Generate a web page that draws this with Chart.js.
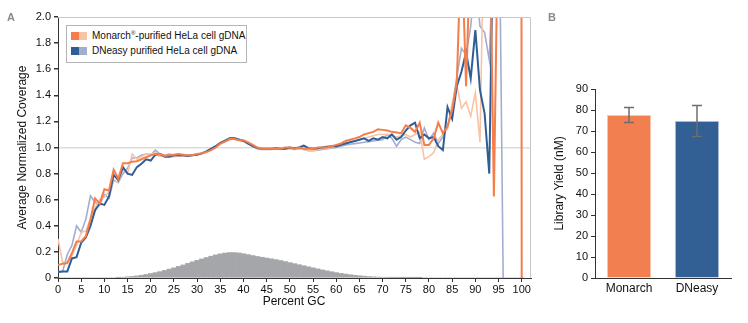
<!DOCTYPE html>
<html>
<head>
<meta charset="utf-8">
<script src="https://cdn.jsdelivr.net/npm/chart.js@4"></script>
<style>
  body { margin: 0; background: #fff; font-family: "Liberation Sans", Arial, sans-serif; }
  #wrapA { position: absolute; left: 0; top: 0; width: 545px; height: 323px; }
  #wrapB { position: absolute; left: 545px; top: 0; width: 203px; height: 323px; }
  .panel { position: absolute; font-weight: bold; font-size: 11px; color: #8a8a8a; }
  #xTitleA { position: absolute; left: 194px; width: 200px; top: 294px; text-align: center; font-size: 12px; line-height: 14px; color: #111; }
  #legend { position: absolute; left: 66px; top: 25px; width: 179px; height: 36px; border: 1px solid #b5b5b5; background: #fff; font-size: 10px; color: #111; }
  .row { position: absolute; left: 4px; height: 12px; line-height: 12px; white-space: nowrap; }
  .sw { display: inline-block; width: 8px; height: 8px; vertical-align: -1px; }
  .row span.t { margin-left: 5px; }
  sup { font-size: 6px; vertical-align: 4px; line-height: 0; }
</style>
</head>
<body>
<div id="wrapA"><canvas id="chartA"></canvas></div>
<div id="wrapB"><canvas id="chartB"></canvas></div>
<div class="panel" style="left:7px;top:11px;">A</div>
<div class="panel" style="left:548px;top:11px;">B</div>
<div id="xTitleA">Percent GC</div>
<div id="legend">
  <div class="row" style="top:4px;"><span class="sw" style="background:#f47d4a"></span><span class="sw" style="background:#f9c3a6"></span><span class="t">Monarch<sup>®</sup>-purified HeLa cell gDNA</span></div>
  <div class="row" style="top:19px;"><span class="sw" style="background:#2e5e95"></span><span class="sw" style="background:#a2aed0"></span><span class="t">DNeasy purified HeLa cell gDNA</span></div>
</div>
<script>
// percent GC, 0..100
const gcPercent = Array.from({length: 101}, (_, i) => i);

const monarchRep1 = [
  0.10, 0.11, 0.115, 0.19, 0.28, 0.28, 0.32, 0.45, 0.61, 0.57,
  0.68, 0.67, 0.83, 0.76, 0.88, 0.88, 0.89, 0.895, 0.91, 0.925,
  0.94, 0.95, 0.95, 0.935, 0.94, 0.945, 0.95, 0.945, 0.94, 0.94,
  0.95, 0.955, 0.965, 0.98, 1.0, 1.03, 1.045, 1.065, 1.065, 1.055,
  1.055, 1.04, 1.02, 1.0, 0.99, 0.99, 0.99, 0.99, 0.99, 1.0,
  1.0, 0.99, 1.0, 0.99, 0.99, 0.99, 1.0, 1.0, 1.0, 1.01,
  1.02, 1.03, 1.05, 1.06, 1.07, 1.08, 1.1, 1.11, 1.12, 1.14,
  1.135, 1.13, 1.12, 1.115, 1.11, 1.17, 1.15, 1.12, 1.19, 1.02,
  1.02, 1.07, 1.19, 1.11, 1.16, 1.29, 1.5, 2.6, 1.47, 2.6,
  2.8, 2.8, 2.9, 3.0, 0.625, 3.0, 3.2, 3.5, 4.0, 40,
  0
];
const monarchRep2 = [
  0.30, 0.12, 0.12, 0.17, 0.25, 0.35, 0.36, 0.45, 0.54, 0.60,
  0.62, 0.66, 0.74, 0.74, 0.83, 0.80, 0.95, 0.91, 0.93, 0.95,
  0.95, 0.96, 0.93, 0.94, 0.93, 0.93, 0.935, 0.935, 0.935, 0.94,
  0.945, 0.95, 0.965, 0.98, 1.0, 1.025, 1.045, 1.06, 1.065, 1.06,
  1.05, 1.035, 1.02, 1.0, 0.99, 0.99, 0.99, 0.985, 0.99, 0.995,
  0.995, 0.99, 0.99, 0.985, 0.98, 0.975, 0.985, 0.99, 0.995, 1.0,
  1.01, 1.02, 1.03, 1.04, 1.05, 1.06, 1.07, 1.08, 1.09, 1.1,
  1.1, 1.1, 1.09, 1.08, 1.09, 1.1, 1.08, 1.1, 1.12, 0.91,
  0.93, 0.96, 1.06, 1.1, 1.14, 1.34, 1.48, 1.3, 1.35, 1.24,
  1.42, 1.04, 3.0, null, null, null, null, null, null, null,
  null
];
const dneasyRep1 = [
  0.045, 0.05, 0.05, 0.15, 0.16, 0.27, 0.31, 0.40, 0.52, 0.57,
  0.56, 0.625, 0.79, 0.75, 0.85, 0.80, 0.79, 0.85, 0.875, 0.91,
  0.90, 0.945, 0.95, 0.93, 0.93, 0.94, 0.94, 0.94, 0.935, 0.94,
  0.945, 0.955, 0.97, 0.99, 1.01, 1.035, 1.05, 1.07, 1.07, 1.06,
  1.05, 1.03, 1.01, 0.995, 0.99, 0.99, 0.99, 0.995, 0.99, 0.99,
  1.0, 0.995, 1.0, 1.015, 0.995, 0.99, 0.995, 1.0, 1.005, 1.01,
  1.01, 1.02, 1.03, 1.04, 1.05, 1.06, 1.07, 1.05, 1.07, 1.06,
  1.08, 1.07, 1.1, 1.06, 1.08, 1.13, 1.17, 1.19, 1.07, 1.1,
  1.07, 1.08, 1.01, 0.98, 1.31, 1.22, 1.47, 1.58, 1.73, 1.53,
  1.9, 1.44, 1.26, 0.8, 3.0, null, null, null, null, null,
  null
];
const dneasyRep2 = [
  0.05, 0.05, 0.18, 0.25, 0.40, 0.35, 0.45, 0.63, 0.58, 0.56,
  0.64, 0.61, 0.75, 0.73, 0.80, 0.84, 0.92, 0.92, 0.94, 0.95,
  0.94, 0.98, 0.95, 0.94, 0.95, 0.94, 0.935, 0.935, 0.94, 0.945,
  0.95, 0.955, 0.97, 0.99, 1.01, 1.035, 1.055, 1.07, 1.075, 1.065,
  1.05, 1.03, 1.01, 0.99, 0.985, 0.985, 0.985, 0.99, 0.985, 0.99,
  0.99, 0.985, 0.99, 0.985, 0.975, 0.975, 0.98, 0.985, 0.99, 0.995,
  1.0, 1.01, 1.02, 1.025, 1.03, 1.035, 1.04, 1.045, 1.05, 1.055,
  1.06, 1.1, 1.07, 1.01, 1.06, 1.08, 1.06, 1.04, 1.03, 1.15,
  1.06, 1.11, 1.03, 1.08, 1.16, 1.31, 1.54, 1.76, 1.71, 1.93,
  2.3, 1.93, 1.88, 1.67, 2.6, 3.3, 0, null, null, null,
  null
];
// genome GC distribution (scaled to the coverage axis)
const gcDistribution = [
  0, 0, 0, 0, 0, 0, 0, 0, 0, 0,
  0, 0, 0, 0.004, 0.006, 0.009, 0.012, 0.016, 0.021, 0.027,
  0.034, 0.041, 0.049, 0.058, 0.068, 0.078, 0.089, 0.1, 0.112, 0.124,
  0.135, 0.146, 0.157, 0.167, 0.177, 0.185, 0.191, 0.195, 0.195, 0.192,
  0.186, 0.179, 0.172, 0.165, 0.159, 0.153, 0.147, 0.141, 0.134, 0.126,
  0.118, 0.11, 0.102, 0.094, 0.086, 0.078, 0.07, 0.062, 0.055, 0.048,
  0.041, 0.035, 0.03, 0.025, 0.021, 0.017, 0.014, 0.011, 0.009, 0.007,
  0.006, 0.005, 0.004, 0.004, 0.003, 0.003, 0.003, 0.002, 0.002, 0,
  0, 0, 0, 0, 0, 0, 0, 0, 0, 0,
  0, 0, 0, 0, 0, 0, 0, 0, 0, 0,
  0
];
const gcTicks = gcPercent.filter(v => v % 5 === 0);

const kits = ['Monarch', 'DNeasy'];
const yieldMean = [77.6, 74.8];
const yieldErr = [3.6, 7.4];

const fontFam = '"Liberation Sans", Arial, sans-serif';
Chart.defaults.font.family = fontFam;
Chart.defaults.color = '#111';
Chart.defaults.animation = false;

const xy = arr => gcPercent.map((g, i) => ({x: g, y: arr[i]}));

const frame = {
  id: 'frame',
  afterDraw(chart) {
    const {ctx, chartArea: a} = chart;
    ctx.save();
    ctx.strokeStyle = '#c8c8c8';
    ctx.lineWidth = 1;
    ctx.beginPath();
    ctx.moveTo(a.left, a.top + 0.5);
    ctx.lineTo(a.right - 0.5, a.top + 0.5);
    ctx.lineTo(a.right - 0.5, a.bottom);
    ctx.stroke();
    ctx.restore();
  }
};

new Chart(document.getElementById('chartA'), {
  type: 'line',
  data: {
    datasets: [
      {type: 'line', data: xy(monarchRep1), borderColor: '#f47d4a', borderWidth: 2, order: 0},
      {type: 'line', data: xy(dneasyRep1), borderColor: '#2e5e95', borderWidth: 2, order: 1},
      {type: 'line', data: xy(monarchRep2), borderColor: '#f9c3a6', borderWidth: 1.6, order: 2},
      {type: 'line', data: xy(dneasyRep2), borderColor: '#a2aed0', borderWidth: 1.6, order: 3},
      {type: 'bar', data: xy(gcDistribution), backgroundColor: '#a5a6a9', barPercentage: 1, categoryPercentage: 1, order: 4}
    ]
  },
  options: {
    responsive: true,
    maintainAspectRatio: false,
    elements: {point: {radius: 0}, line: {tension: 0}},
    layout: {padding: {left: 11, top: 17, right: 14, bottom: 0}},
    plugins: {legend: {display: false}, tooltip: {enabled: false}},
    scales: {
      x: {
        type: 'linear', min: 0, max: 102, offset: false,
        afterBuildTicks: s => { s.ticks = gcTicks.map(v => ({value: v})); },
        afterFit: s => { s.height = 45; },
        ticks: {font: {size: 11}, maxRotation: 0, padding: 1, color: '#111'},
        grid: {drawOnChartArea: false, offset: false, tickLength: 4, tickColor: '#333'},
        border: {color: '#333'}
      },
      y: {
        min: 0, max: 2,
        afterFit: s => { s.width = 47; },
        ticks: {stepSize: 0.2, font: {size: 11}, padding: 3, color: '#111',
          callback: v => v === 0 ? '0' : v.toFixed(1)},
        grid: {color: c => c.tick && Math.abs(c.tick.value - 1) < 1e-6 ? '#dcdcdc' : 'rgba(0,0,0,0)',
          lineWidth: 1.5, tickLength: 4, tickColor: '#333'},
        border: {color: '#333'},
        title: {display: true, text: 'Average Normalized Coverage', font: {size: 12}, padding: {bottom: 4}}
      }
    }
  },
  plugins: [frame]
});

const errorBars = {
  id: 'errorBars',
  afterDatasetsDraw(chart) {
    const {ctx, scales: {x, y}} = chart;
    ctx.save();
    ctx.strokeStyle = '#6e6e6e';
    ctx.lineWidth = 1.5;
    yieldMean.forEach((m, i) => {
      const px = x.getPixelForValue(i);
      const top = y.getPixelForValue(m + yieldErr[i]);
      const bot = y.getPixelForValue(m - yieldErr[i]);
      ctx.beginPath();
      ctx.moveTo(px, top); ctx.lineTo(px, bot);
      ctx.moveTo(px - 5, top); ctx.lineTo(px + 5, top);
      ctx.moveTo(px - 5, bot); ctx.lineTo(px + 5, bot);
      ctx.stroke();
    });
    ctx.restore();
  }
};

new Chart(document.getElementById('chartB'), {
  type: 'bar',
  data: {
    labels: kits,
    datasets: [{
      data: yieldMean,
      backgroundColor: ['#f27f4f', '#325f94'],
      borderColor: ['#f9c6ad', '#a9bbd4'],
      borderWidth: 1,
      barPercentage: 0.65,
      categoryPercentage: 1
    }]
  },
  options: {
    responsive: true,
    maintainAspectRatio: false,
    layout: {padding: {left: 3, top: 89, right: 17, bottom: 0}},
    plugins: {legend: {display: false}, tooltip: {enabled: false}},
    scales: {
      x: {
        afterFit: s => { s.height = 45; },
        ticks: {font: {size: 12}, padding: 3, color: '#111'},
        grid: {display: false, tickLength: 0},
        border: {color: '#333'}
      },
      y: {
        min: 0, max: 90,
        afterFit: s => { s.width = 47; },
        ticks: {stepSize: 10, font: {size: 11}, padding: 3, color: '#111'},
        grid: {drawOnChartArea: false, tickLength: 4, tickColor: '#333'},
        border: {color: '#333'},
        title: {display: true, text: 'Library Yield (nM)', font: {size: 12}, padding: {bottom: 2}}
      }
    }
  },
  plugins: [errorBars]
});
</script>
</body>
</html>
